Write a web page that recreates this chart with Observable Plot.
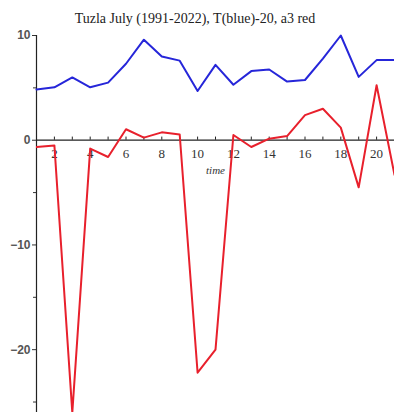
<!DOCTYPE html>
<html>
<head>
<meta charset="utf-8">
<script src="https://cdn.jsdelivr.net/npm/d3@7"></script>
<script src="https://cdn.jsdelivr.net/npm/@observablehq/plot@0.6"></script>
<style>
  body { margin: 0; background: #fff; }
  #wrap { position: relative; width: 394px; height: 415px; overflow: hidden; background: #fff; }
  #title { position: absolute; top: 12px; left: 0; width: 390px; text-align: center;
           font: 14px "Liberation Serif", "DejaVu Serif", serif; line-height: 14px; color: #222; }
  #wrap svg { position: absolute; top: 0; left: 0; }
</style>
</head>
<body>
<div id="wrap"><div id="title">Tuzla July (1991-2022), T(blue)-20, a3 red</div></div>
<script>
const time = [1, 2, 3, 4, 5, 6, 7, 8, 9, 10, 11, 12, 13, 14, 15, 16, 17, 18, 19, 20, 21];
const tBlue = [4.85, 5.05, 6.0, 5.05, 5.5, 7.3, 9.6, 8.0, 7.6, 4.7, 7.2, 5.3, 6.6, 6.75, 5.6, 5.75, 7.8, 10.0, 6.05, 7.65, 7.65];
const a3Red = [-0.65, -0.5, -26.0, -0.8, -1.6, 1.05, 0.25, 0.75, 0.55, -22.2, -20.0, 0.5, -0.65, 0.15, 0.4, 2.4, 3.0, 1.2, -4.5, 5.25, -3.3];
const xTickLabels = [2, 4, 6, 8, 10, 12, 14, 16, 18, 20];
const yTickLabels = [10, 0, -10, -20];
const yMinorTicks = [5, -5, -15, -25];
const xLabel = "time";

const blueData = time.map((t, i) => ({t, v: tBlue[i]}));
const redData = time.map((t, i) => ({t, v: a3Red[i]}));

const chart = Plot.plot({
  width: 394,
  height: 415,
  marginTop: 35,
  marginBottom: 3,
  marginLeft: 36,
  marginRight: 0,
  style: {background: "transparent", color: "#333"},
  x: {domain: [1, 21], axis: null},
  y: {domain: [-26, 10], label: null},
  marks: [
    Plot.axisY({ticks: yTickLabels, tickSize: 4, tickPadding: 2, fontSize: 12, label: null,
      fontFamily: "Liberation Sans, Arial, sans-serif", fontWeight: "bold", fill: "#555", stroke: "#333"}),
    Plot.axisY({ticks: yMinorTicks, tickSize: 3, tickFormat: () => "", label: null, stroke: "#333"}),
    Plot.ruleX([1], {stroke: "#222", strokeWidth: 1.2}),
    Plot.ruleY([0], {stroke: "#222", strokeWidth: 1.2}),
    Plot.ruleX(time, {x: d => d, y1: 0, y2: 0.3, stroke: "#222"}),
    Plot.text(xTickLabels, {x: d => d, y: 0, dy: 14, text: d => String(d), fontSize: 13,
      fontFamily: "Liberation Serif, serif", fill: "#333"}),
    Plot.text([xLabel], {x: 11, y: 0, dy: 30, text: d => d, fontSize: 11, fontStyle: "italic",
      fontFamily: "Liberation Serif, serif", fill: "#333"}),
    Plot.line(blueData, {x: "t", y: "v", stroke: "#2626d9", strokeWidth: 2}),
    Plot.line(redData, {x: "t", y: "v", stroke: "#e8202c", strokeWidth: 2, clip: true})
  ]
});
document.getElementById("wrap").appendChild(chart);
</script>
</body>
</html>
